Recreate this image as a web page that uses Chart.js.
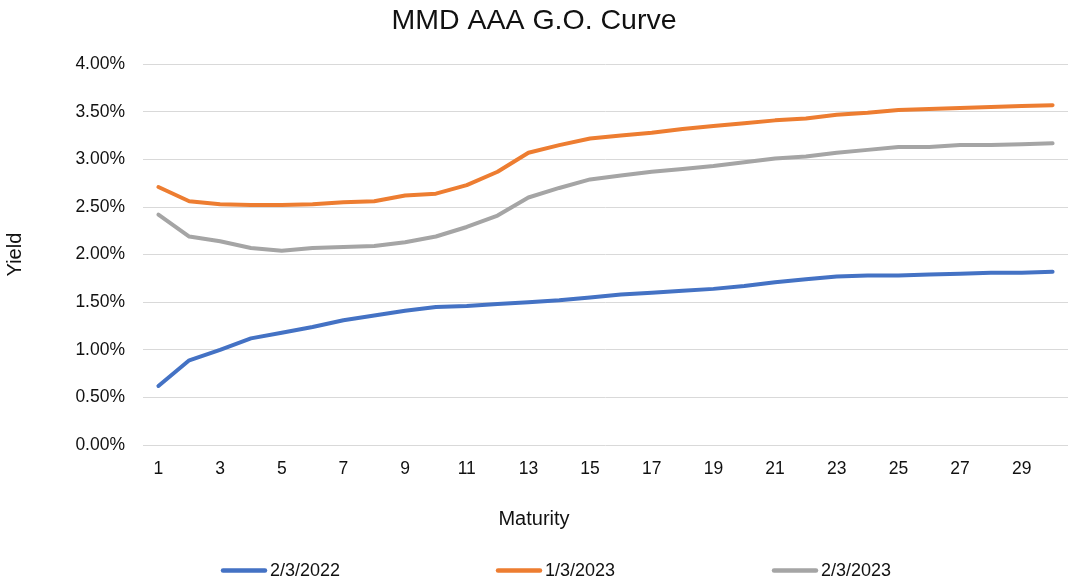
<!DOCTYPE html>
<html>
<head>
<meta charset="utf-8">
<title>MMD AAA G.O. Curve</title>
<script src="https://cdn.jsdelivr.net/npm/chart.js@4.4.1/dist/chart.umd.min.js"></script>
<style>
  html, body { margin: 0; padding: 0; background: #fff; }
  canvas { display: block; }
</style>
</head>
<body>
<canvas id="myChart" width="1068" height="583"></canvas>
<script>
var maturities = ['1', '2', '3', '4', '5', '6', '7', '8', '9', '10',
  '11', '12', '13', '14', '15', '16', '17', '18', '19', '20',
  '21', '22', '23', '24', '25', '26', '27', '28', '29', '30'];

// yields in percent
var yields20220203 = [0.62, 0.89, 1.00, 1.12, 1.18, 1.24, 1.31, 1.36, 1.41, 1.45,
  1.46, 1.48, 1.50, 1.52, 1.55, 1.58, 1.60, 1.62, 1.64, 1.67,
  1.71, 1.74, 1.77, 1.78, 1.78, 1.79, 1.80, 1.81, 1.81, 1.82];
var yields20230103 = [2.71, 2.56, 2.53, 2.52, 2.52, 2.53, 2.55, 2.56, 2.62, 2.64,
  2.73, 2.87, 3.07, 3.15, 3.22, 3.25, 3.28, 3.32, 3.35, 3.38,
  3.41, 3.43, 3.47, 3.49, 3.52, 3.53, 3.54, 3.55, 3.56, 3.57];
var yields20230203 = [2.42, 2.19, 2.14, 2.07, 2.04, 2.07, 2.08, 2.09, 2.13, 2.19,
  2.29, 2.41, 2.60, 2.70, 2.79, 2.83, 2.87, 2.90, 2.93, 2.97,
  3.01, 3.03, 3.07, 3.10, 3.13, 3.13, 3.15, 3.15, 3.16, 3.17];

var seriesLabels = ['2/3/2022', '1/3/2023', '2/3/2023'];
var seriesColors = ['#4472C4', '#ED7D31', '#A5A5A5'];
var yMin = 0, yMax = 4, yStep = 0.5;

var fontFamily = '"Liberation Sans", Arial, sans-serif';
var textColor = '#111';
Chart.defaults.font.family = fontFamily;
Chart.defaults.color = textColor;

// legend drawn as a single spaced row under the axis title
var legendX = [221, 496, 772];
var bottomLegend = {
  id: 'bottomLegend',
  afterDraw: function (chart) {
    var ctx = chart.ctx;
    var y = chart.height - 12.5;
    ctx.save();
    ctx.font = '18px ' + fontFamily;
    ctx.textBaseline = 'middle';
    ctx.fillStyle = textColor;
    chart.data.datasets.forEach(function (ds, i) {
      var x = legendX[i];
      ctx.strokeStyle = ds.borderColor;
      ctx.lineWidth = 4.5;
      ctx.lineCap = 'round';
      ctx.beginPath();
      ctx.moveTo(x + 2, y);
      ctx.lineTo(x + 44, y);
      ctx.stroke();
      ctx.fillText(ds.label, x + 49, y + 1);
    });
    ctx.restore();
  }
};

function makeSet(i, values) {
  return {
    label: seriesLabels[i],
    data: values,
    borderColor: seriesColors[i],
    backgroundColor: seriesColors[i],
    borderWidth: 4,
    borderCapStyle: 'round',
    borderJoinStyle: 'round',
    pointRadius: 0,
    tension: 0,
    fill: false
  };
}

var config = {
  type: 'line',
  data: {
    labels: maturities,
    datasets: [
      makeSet(0, yields20220203),
      makeSet(1, yields20230103),
      makeSet(2, yields20230203)
    ]
  },
  options: {
    responsive: false,
    animation: false,
    devicePixelRatio: 1,
    layout: { padding: { left: 0, right: 0, top: 0, bottom: 43 } },
    plugins: {
      legend: { display: false },
      tooltip: { enabled: false },
      title: {
        display: true,
        text: 'MMD AAA G.O. Curve',
        color: textColor,
        font: { size: 28.5, weight: 'normal' },
        padding: { top: 4, bottom: 26 }
      },
      subtitle: {
        display: true,
        position: 'bottom',
        text: 'Maturity',
        color: textColor,
        font: { size: 20, weight: 'normal' },
        padding: { top: 22, bottom: 9 }
      }
    },
    scales: {
      x: {
        offset: true,
        grid: { display: false, drawTicks: false },
        border: { display: false },
        ticks: {
          autoSkip: false,
          maxRotation: 0,
          padding: 14,
          font: { size: 17.5 },
          callback: function (v, i) {
            return i % 2 === 0 ? this.getLabelForValue(v) : '';
          }
        },
        afterFit: function (s) { s.height = 40; }
      },
      y: {
        min: yMin,
        max: yMax,
        grid: { color: '#d9d9d9', lineWidth: 1, drawTicks: false },
        border: { display: false },
        ticks: {
          stepSize: yStep,
          padding: 18,
          font: { size: 17.5 },
          callback: function (v) { return v.toFixed(2) + '%'; }
        },
        title: {
          display: true,
          text: 'Yield',
          font: { size: 20 },
          padding: { top: 3, bottom: 0 }
        },
        afterFit: function (s) { s.width = 143; }
      }
    }
  },
  plugins: [bottomLegend]
};

var myChart = new Chart(document.getElementById('myChart'), config);
</script>
</body>
</html>
